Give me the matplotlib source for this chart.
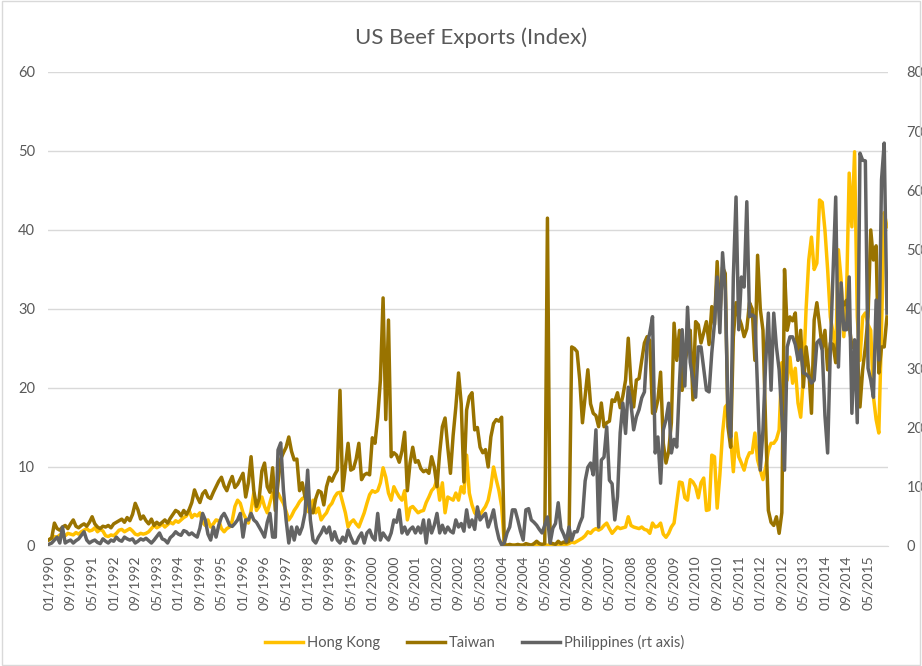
import numpy as np
import pandas as pd
import matplotlib
matplotlib.use("Agg")
import matplotlib.pyplot as plt
from matplotlib.patches import Rectangle

plt.rcParams['font.family'] = ['Lato', 'DejaVu Sans']

# monthly categories 01/1990 .. 12/2015
months = pd.date_range("1990-01-01", periods=312, freq="MS")
tick_labels = list(months.strftime("%m/%Y"))

hong_kong = [
    0.8, 1.0, 1.2, 1.1, 1.4, 1.5, 1.3, 1.6, 1.5, 1.4, 1.7, 1.5,        # 1990
    1.8, 2.0, 2.2, 1.9, 2.0, 2.3, 1.8, 2.1, 1.9, 1.3, 1.2, 1.4,        # 1991
    1.3, 1.6, 2.0, 2.1, 1.8, 2.0, 2.2, 1.9, 1.5, 1.4, 1.6, 1.5,        # 1992
    1.6, 1.8, 2.2, 2.6, 2.3, 2.5, 2.8, 2.4, 2.7, 3.0, 2.8, 3.2,        # 1993
    3.0, 3.3, 3.6, 3.8, 4.5, 3.6, 4.0, 3.8, 4.2, 3.0, 2.6, 3.3,        # 1994
    2.4, 2.8, 3.3, 3.2, 2.2, 1.8, 2.2, 2.4, 3.2, 5.0, 5.8, 5.4,        # 1995
    4.2, 3.5, 2.9, 4.5, 6.7, 4.5, 5.0, 6.2, 5.0, 4.2, 5.5, 6.7,        # 1996
    6.5, 6.7, 6.0, 5.4, 4.4, 3.3, 3.8, 4.5, 5.0, 5.6, 6.0, 6.2,        # 1997
    4.4, 4.2, 5.8, 4.2, 4.8, 3.3, 3.8, 4.2, 5.0, 5.4, 6.2, 6.7,        # 1998
    6.8, 5.5, 4.2, 2.4, 3.0, 3.3, 2.8, 2.4, 3.3, 4.2, 5.4, 6.5,        # 1999
    7.0, 6.8, 7.0, 8.0, 9.9, 8.7, 6.7, 5.8, 7.5, 6.8, 6.2, 5.8,        # 2000
    7.0, 3.3, 4.8, 5.0, 4.6, 4.2, 4.4, 4.5, 5.5, 6.2, 7.0, 7.4,        # 2001
    8.4, 5.8, 8.0, 4.2, 6.2, 6.0, 5.8, 6.7, 5.8, 7.5, 6.7, 11.5,       # 2002
    6.7, 5.2, 4.2, 3.8, 4.0, 4.5, 5.0, 5.8, 7.5, 10.0, 8.4, 7.0,       # 2003
    5.0, 0.3, 0.1, 0.1, 0.1, 0.1, 0.1, 0.1, 0.1, 0.1, 0.1, 0.1,        # 2004
    0.1, 0.1, 0.2, 0.1, 0.1, 0.1, 0.1, 0.2, 0.1, 0.1, 0.1, 0.2,        # 2005
    0.2, 0.3, 0.5, 0.4, 0.6, 0.8, 1.0, 1.3, 1.8, 1.6, 2.0, 2.2,        # 2006
    2.0, 2.2, 2.6, 2.9, 2.2, 1.6, 2.0, 2.4, 2.2, 2.3, 2.4, 3.7,        # 2007
    2.6, 2.4, 2.3, 2.2, 2.4, 2.1, 2.0, 1.6, 2.9, 2.4, 2.5, 2.9,        # 2008
    1.5, 1.1, 1.6, 2.4, 2.9, 5.5, 8.1, 8.0, 6.1, 5.8, 8.4, 8.1,        # 2009
    7.5, 6.1, 8.0, 8.6, 4.5, 4.6, 11.5, 11.3, 4.8, 9.0, 14.3, 17.6,    # 2010
    18.0, 13.8, 9.4, 14.3, 11.3, 10.5, 9.6, 11.0, 11.8, 11.8, 14.3, 10.9,  # 2011
    9.6, 8.4, 10.0, 12.1, 13.0, 13.0, 13.5, 14.7, 23.2, 20.6, 21.0, 23.9,  # 2012
    20.6, 22.5, 18.1, 16.3, 21.4, 30.0, 36.2, 39.1, 35.0, 35.8, 43.8, 43.5,  # 2013
    40.0, 35.0, 29.0, 27.0, 24.4, 37.5, 33.7, 26.5, 31.5, 47.2, 40.4, 49.9,  # 2014
    29.0, 23.5, 29.0, 29.5, 28.0, 27.3, 18.9, 16.0, 14.3, 27.3, 42.2, 40.4,  # 2015
]

taiwan = [
    0.8, 1.0, 2.9, 2.2, 2.0, 2.4, 2.6, 2.2, 2.8, 3.3, 2.5, 2.3,        # 1990
    2.6, 2.8, 2.5, 3.0, 3.7, 2.8, 2.4, 2.2, 2.5, 2.4, 2.6, 2.3,        # 1991
    2.8, 3.0, 3.2, 3.4, 3.0, 3.6, 3.2, 4.0, 5.4, 4.6, 3.4, 3.8,        # 1992
    3.2, 2.8, 3.4, 2.6, 3.0, 2.7, 3.0, 3.3, 2.9, 3.5, 4.0, 4.5,        # 1993
    4.3, 3.8, 4.5, 4.0, 4.6, 5.5, 7.1, 6.2, 5.5, 6.6, 7.0, 6.2,        # 1994
    6.0, 6.8, 7.5, 8.2, 8.7, 7.6, 7.0, 8.0, 8.8, 7.4, 7.8, 8.5,        # 1995
    9.2, 6.2, 8.0, 11.3, 7.0, 5.0, 6.0, 9.5, 10.5, 7.5, 6.8, 9.9,      # 1996
    4.5, 8.0, 11.0, 11.8, 12.5, 13.8, 12.0, 10.9, 11.0, 7.0, 8.0, 6.2,   # 1997
    5.8, 4.3, 4.2, 6.0, 7.0, 6.8, 5.2, 7.5, 8.7, 8.2, 9.0, 9.6,        # 1998
    19.7, 7.0, 10.0, 13.0, 9.6, 9.8, 11.0, 13.0, 8.4, 9.0, 9.2, 9.0,   # 1999
    13.7, 13.0, 16.3, 21.0, 31.4, 16.0, 28.6, 11.3, 11.8, 11.5, 10.6, 12.0,  # 2000
    14.4, 7.0, 10.5, 12.5, 10.6, 10.8, 9.8, 9.4, 9.6, 9.2, 11.3, 10.0,   # 2001
    7.5, 11.8, 15.1, 16.2, 12.5, 9.2, 14.0, 17.6, 21.9, 18.0, 8.1, 17.2,  # 2002
    18.9, 19.4, 14.7, 15.0, 12.5, 11.8, 12.2, 10.0, 13.8, 15.5, 16.0, 15.8,  # 2003
    16.3, 0.1, 0.1, 0.2, 0.1, 0.1, 0.2, 0.1, 0.1, 0.3, 0.2, 0.1,       # 2004
    0.3, 0.6, 0.3, 0.2, 0.3, 41.5, 0.4, 0.3, 0.2, 0.6, 0.3, 0.5,       # 2005
    0.4, 0.6, 25.2, 25.0, 24.6, 21.0, 15.6, 19.0, 22.3, 18.0, 16.8, 16.5,  # 2006
    15.1, 18.1, 15.1, 15.6, 15.8, 18.5, 18.3, 19.4, 17.5, 19.0, 21.0, 26.3,  # 2007
    20.6, 17.6, 21.0, 21.2, 23.5, 25.7, 26.5, 26.0, 16.8, 17.0, 18.5, 22.0,  # 2008
    13.0, 10.5, 12.0, 15.6, 28.2, 23.5, 27.3, 19.7, 23.2, 25.0, 27.3, 18.5,  # 2009
    28.4, 28.0, 25.7, 27.0, 28.4, 25.5, 30.3, 28.0, 36.0, 29.0, 35.3, 34.5,  # 2010
    15.1, 12.5, 26.5, 30.8, 29.0, 28.0, 26.5, 27.5, 30.8, 30.0, 23.5, 36.8,  # 2011
    30.0, 27.3, 15.1, 4.5, 3.0, 2.6, 3.7, 1.6, 4.2, 35.0, 27.3, 29.0,  # 2012
    28.5, 29.5, 23.5, 27.3, 20.1, 25.2, 22.3, 16.8, 28.6, 30.8, 28.0, 25.0,  # 2013
    27.3, 22.3, 25.7, 25.5, 23.2, 27.0, 31.1, 30.5, 31.1, 28.0, 25.2, 25.0,  # 2014
    25.2, 17.6, 22.3, 25.2, 29.0, 40.0, 36.2, 38.0, 21.9, 25.2, 25.2, 29.0,  # 2015
]

philippines = [
    0.3, 0.5, 1.0, 1.5, 0.5, 3.2, 0.5, 0.8, 1.0, 0.5, 0.9, 1.2,        # 1990
    1.8, 2.4, 1.0, 0.5, 0.8, 1.0, 0.6, 0.4, 1.2, 0.8, 0.5, 1.0,        # 1991
    0.8, 1.5, 1.0, 0.8, 1.5, 1.2, 1.0, 1.2, 0.5, 0.8, 1.2, 1.0,        # 1992
    1.3, 0.9, 0.5, 1.0, 1.6, 2.2, 1.2, 1.0, 0.5, 1.4, 1.8, 2.4,        # 1993
    2.0, 1.8, 2.6, 2.4, 1.9, 2.2, 1.8, 1.5, 3.0, 5.5, 4.4, 2.0,        # 1994
    1.0, 3.2, 1.5, 3.5, 4.9, 5.5, 4.6, 3.5, 3.3, 3.8, 4.4, 5.5,        # 1995
    1.5, 4.4, 4.4, 5.5, 4.4, 4.0, 3.2, 2.4, 1.5, 4.0, 5.5, 1.5,        # 1996
    1.5, 16.2, 17.4, 9.5, 4.4, 0.5, 3.2, 1.0, 3.2, 2.0, 3.2, 5.5,      # 1997
    12.8, 4.4, 1.0, 0.5, 1.5, 2.2, 3.2, 2.2, 3.2, 1.0, 2.4, 1.0,       # 1998
    0.5, 1.5, 0.8, 2.7, 1.5, 0.5, 0.5, 1.5, 2.2, 0.5, 2.2, 2.7,        # 1999
    1.5, 1.0, 5.5, 1.0, 2.2, 1.5, 1.0, 2.2, 4.4, 4.0, 6.1, 2.2,        # 2000
    3.2, 2.0, 2.8, 3.2, 2.2, 3.2, 2.2, 4.4, 0.5, 4.4, 2.2, 3.5,        # 2001
    5.5, 2.2, 3.5, 2.2, 3.2, 2.5, 2.2, 4.4, 3.2, 3.8, 2.5, 6.1,        # 2002
    3.2, 4.4, 2.8, 6.6, 4.4, 5.0, 5.5, 3.2, 4.5, 6.1, 3.2, 1.2,        # 2003
    0.2, 0.5, 2.2, 3.2, 6.1, 6.1, 4.4, 2.5, 1.0, 6.1, 6.3, 4.4,        # 2004
    4.0, 3.5, 2.8, 2.2, 3.5, 4.9, 0.5, 3.0, 3.8, 7.3, 3.0, 2.0,        # 2005
    0.8, 3.2, 1.0, 2.4, 2.4, 3.8, 4.9, 11.0, 13.3, 14.0, 12.0, 19.6,   # 2006
    3.2, 14.5, 15.0, 20.1, 11.1, 10.5, 4.4, 8.3, 19.1, 24.1, 19.0, 26.8,  # 2007
    24.0, 19.6, 21.8, 23.0, 25.0, 26.0, 34.0, 36.0, 38.7, 15.7, 18.4, 10.6,  # 2008
    19.6, 21.3, 24.1, 15.7, 18.0, 16.7, 27.5, 36.5, 27.0, 40.3, 31.0, 28.0,  # 2009
    25.1, 33.6, 33.6, 30.0, 26.3, 26.0, 32.6, 37.6, 45.4, 36.0, 49.5, 43.2,  # 2010
    23.0, 18.4, 45.4, 58.9, 36.5, 45.4, 43.7, 58.1, 38.7, 39.0, 38.7, 26.3,  # 2011
    12.8, 19.6, 30.9, 39.3, 26.3, 39.3, 33.6, 29.7, 22.0, 12.8, 33.6, 35.3,  # 2012
    35.3, 34.0, 31.4, 33.1, 29.2, 29.0, 28.5, 27.5, 28.0, 34.3, 34.8, 33.0,  # 2013
    22.0, 15.7, 33.1, 46.1, 58.9, 30.2, 44.4, 36.5, 36.5, 45.4, 22.4, 34.8,  # 2014
    20.8, 66.3, 65.1, 65.0, 30.0, 28.0, 25.1, 41.5, 31.4, 61.8, 68.0, 39.3,  # 2015
]

text_color = "#595959"
grid_color = "#d9d9d9"

x = np.arange(len(months))

fig = plt.figure(figsize=(9.22, 6.66), dpi=100)
ax = fig.add_axes([0.0517, 0.1802, 0.9117, 0.7117])
ax2 = ax.twinx()

l1, = ax.plot(x, hong_kong, color="#FFC000", lw=2.5, label="Hong Kong")
l2, = ax.plot(x, taiwan, color="#997300", lw=2.5, label="Taiwan")
l3, = ax2.plot(x, philippines, color="#636363", lw=2.5, label="Philippines (rt axis)")

ax.set_xlim(-0.5, len(months) - 0.5)
ax.set_ylim(0, 60)
ax2.set_ylim(0, 80)
ax.set_yticks(range(0, 61, 10))
ax2.set_yticks(range(0, 81, 10))
ax.set_xticks(x[::8])
ax.set_xticklabels(tick_labels[::8], rotation=90)

ax.grid(axis="y", color=grid_color, lw=1)
ax.set_axisbelow(True)
for a in (ax, ax2):
    for s in a.spines.values():
        s.set_visible(False)
ax.spines["bottom"].set_visible(True)
ax.spines["bottom"].set_color(grid_color)

ax.tick_params(axis="x", length=0, colors=text_color, labelsize=10, pad=7)
ax.tick_params(axis="y", length=0, colors=text_color, labelsize=10.5, pad=9)
ax2.tick_params(axis="y", length=0, colors=text_color, labelsize=10.5, pad=13)

fig.text(0.511, 0.943, "US Beef Exports (Index)", ha="center", va="center",
         fontsize=16, color=text_color)

fig.legend(handles=[l1, l2, l3], loc="center", bbox_to_anchor=(0.515, 0.035),
           ncol=3, frameon=False, fontsize=10.5, labelcolor=text_color,
           handlelength=2.6, handletextpad=0.3, columnspacing=1.8)

fig.patches.append(Rectangle((0.002, 0.002), 0.996, 0.996, transform=fig.transFigure,
                             fill=False, edgecolor=grid_color, lw=1))

fig.savefig("out.png", dpi=100)
